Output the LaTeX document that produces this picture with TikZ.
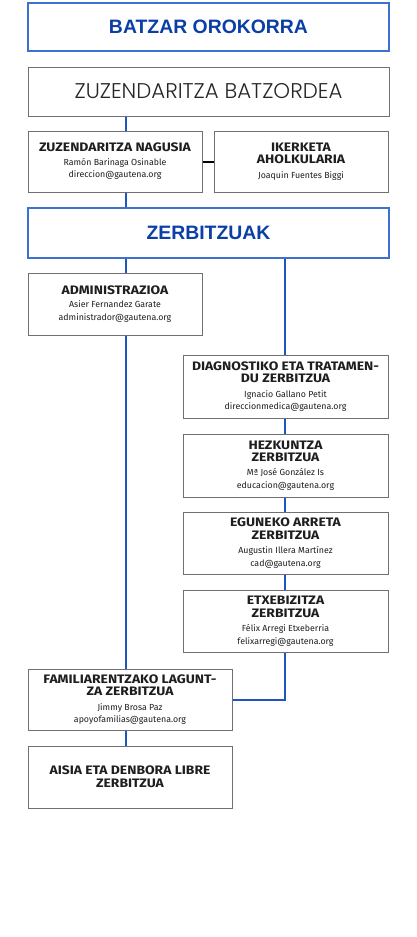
\documentclass[tikz,border=0pt]{standalone}
\usepackage{fontspec}
\setmainfont{Fira Sans}
\newfontfamily\lightf{Poppins Light}
\newfontfamily\arialf{Liberation Sans}
\newfontfamily\hdfont{Fira Sans}[FakeStretch=1.13]
\definecolor{bluetxt}{HTML}{0B3FA6}
\definecolor{blueline}{HTML}{1F55C2}
\definecolor{blueborder}{HTML}{3E70CF}
\definecolor{grayborder}{HTML}{707070}
\definecolor{txt}{HTML}{1E1E1E}
\tikzset{
  box/.style={draw=grayborder, line width=1pt, fill=white, rectangle, inner sep=0pt, align=center, text=txt,
    font=\fontsize{8.8}{12.7}\selectfont},
  bluebox/.style={draw=blueborder, line width=1.2pt, fill=white, rectangle, inner sep=0pt, align=center,
    text=bluetxt, font=\arialf\fontsize{19.4}{22}\selectfont\bfseries},
  conn/.style={draw=blueline, line width=2pt},
  blackconn/.style={draw=black, line width=2pt},
  small/.style={minimum width=174pt, minimum height=61pt},
  wide/.style={minimum width=205pt, minimum height=62pt},
}
\newcommand{\hdx}[1]{{\hdfont\fontsize{12.3}{12.7}\selectfont\bfseries #1}}
\begin{document}
\begin{tikzpicture}[x=1pt,y=1pt]
\useasboundingbox (0,0) rectangle (417,-937);
\coordinate (L) at (126,0);
\coordinate (R) at (285,0);
\node[bluebox, minimum width=361pt, minimum height=48pt] (bat) at (208.5,-27) {BATZAR OROKORRA};
\node[box, minimum width=361pt, minimum height=49pt, text=black!85, font=\lightf\fontsize{21.3}{24}\selectfont] (batz) at (208.5,-91.5)
  {ZUZENDARITZA BATZORDEA};
\node[box, small] (nag) at (115,-161.5)
  {\hdx{ZUZENDARITZA NAGUSIA}\\[0.5pt]Ramón Barinaga Osinable\\direccion@gautena.org};
\node[box, small] (ike) at (301,-161.5)
  {\hdx{IKERKETA}\\\hdx{AHOLKULARIA}\\[2pt]Joaquin Fuentes Biggi};
\node[bluebox, minimum width=361pt, minimum height=50pt] (zer) at (208.5,-233) {ZERBITZUAK};
\node[box, minimum width=174pt, minimum height=62pt] (adm) at (115,-304)
  {\hdx{ADMINISTRAZIOA}\\[0.5pt]Asier Fernandez Garate\\administrador@gautena.org};
\node[box, wide, minimum height=63pt] (diag) at (285.5,-386.5)
  {\hdx{DIAGNOSTIKO ETA TRATAMEN-}\\\hdx{DU ZERBITZUA}\\[1.5pt]Ignacio Gallano Petit\\direccionmedica@gautena.org};
\node[box, wide, minimum height=63pt] (hez) at (285.5,-465.5)
  {\hdx{HEZKUNTZA}\\\hdx{ZERBITZUA}\\[1.5pt]Mª José González Is\\educacion@gautena.org};
\node[box, wide] (egu) at (285.5,-543)
  {\hdx{EGUNEKO ARRETA}\\\hdx{ZERBITZUA}\\[1.5pt]Augustin Illera Martínez\\cad@gautena.org};
\node[box, wide] (etx) at (285.5,-621)
  {\hdx{ETXEBIZITZA}\\\hdx{ZERBITZUA}\\[1.5pt]Félix Arregi Etxeberria\\felixarregi@gautena.org};
\node[box, minimum width=204pt, minimum height=61pt] (fam) at (130,-699.5)
  {\hdx{FAMILIARENTZAKO LAGUNT-}\\\hdx{ZA ZERBITZUA}\\[1.5pt]Jimmy Brosa Paz\\apoyofamilias@gautena.org};
\node[box, minimum width=204pt, minimum height=62pt] (ais) at (130,-777)
  {\hdx{AISIA ETA DENBORA LIBRE}\\\hdx{ZERBITZUA}};
% connectors
\draw[conn] (batz.south -| L) -- (nag.north -| L);
\draw[blackconn] (nag.east) -- (ike.west);
\draw[conn] (nag.south -| L) -- (zer.north -| L);
\draw[conn] (zer.south -| L) -- (adm.north -| L);
\draw[conn] (zer.south -| R) -- (diag.north -| R);
\draw[conn] (diag.south -| R) -- (hez.north -| R);
\draw[conn] (hez.south -| R) -- (egu.north -| R);
\draw[conn] (egu.south -| R) -- (etx.north -| R);
\draw[conn] (etx.south -| R) |- (fam.east);
\draw[conn] (adm.south -| L) -- (fam.north -| L);
\draw[conn] (fam.south -| L) -- (ais.north -| L);
\end{tikzpicture}
\end{document}
